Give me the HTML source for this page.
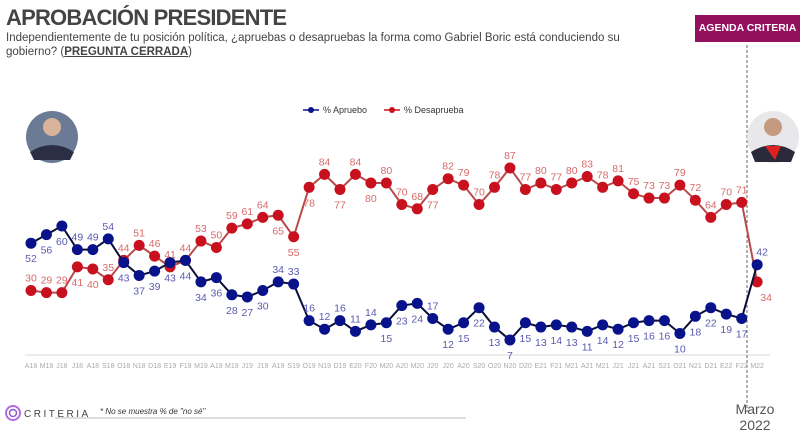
<!DOCTYPE html>
<html><head><meta charset="utf-8"><style>
body{margin:0;width:800px;height:435px;background:#fff;overflow:hidden;font-family:"Liberation Sans",sans-serif;position:relative}
.t{position:absolute;left:6px;top:5px;font-size:22px;font-weight:bold;color:#444;letter-spacing:-0.8px}
.s{position:absolute;left:6px;top:31px;font-size:11.5px;color:#444;line-height:14px;width:620px}
.b{position:absolute;left:695px;top:15px;width:105px;height:27px;background:#93105f;color:#fff;font-size:10.5px;font-weight:bold;text-align:center;line-height:27px}
</style></head><body>
<div class="t">APROBACIÓN PRESIDENTE</div>
<div class="s">Independientemente de tu posición política, ¿apruebas o desapruebas la forma como Gabriel Boric está conduciendo su gobierno? (<b><u>PREGUNTA CERRADA</u></b>)</div>
<div class="b">AGENDA CRITERIA</div>
<svg id="c" width="800" height="435" style="position:absolute;left:0;top:0" font-family="Liberation Sans, sans-serif"></svg>
<script>
var A=[52,56,60,49,49,54,43,37,39,43,44,34,36,28,27,30,34,33,16,12,16,11,14,15,23,24,17,12,15,22,13,7,15,13,14,13,11,14,12,15,16,16,10,18,22,19,17,42];
var D=[30,29,29,41,40,35,44,51,46,41,44,53,50,59,61,64,65,55,78,84,77,84,80,80,70,68,77,82,79,70,78,87,77,80,77,80,83,78,81,75,73,73,79,72,64,70,71,34];
var L="A18 M18 J18 J18 A18 S18 O18 N18 D18 E19 F19 M19 A19 M19 J19 J19 A19 S19 O19 N19 D19 E20 F20 M20 A20 M20 J20 J20 A20 S20 O20 N20 D20 E21 F21 M21 A21 M21 J21 J21 A21 S21 O21 N21 D21 E22 F22 M22".split(" ");
var aUp=[3,4,5,16,17,18,19,20,21,22,26,47],dDn=[3,4,16,17,18,20,22,26,47];
function X(i){return 31+i*15.45}function Y(v){return 355-2.15*v}
var s='';
s+='<line x1="25" y1="355" x2="770" y2="355" stroke="#e6e6e6" stroke-width="1.5"/>';
s+='<line x1="747" y1="45" x2="747" y2="412" stroke="#666" stroke-dasharray="3,2"/>';
s+='<line x1="55" y1="418" x2="466" y2="418" stroke="#bbb"/>';
L.forEach(function(l,i){s+='<text x="'+X(i)+'" y="368" font-size="7" fill="#aaa" text-anchor="middle">'+l+'</text>'});
function ser(d,col,lc){var p=d.map(function(v,i){return X(i)+','+Y(v)}).join(' ');
s+='<polyline points="'+p+'" fill="none" stroke="'+lc+'" stroke-width="2"/>';
d.forEach(function(v,i){s+='<circle cx="'+X(i)+'" cy="'+Y(v)+'" r="5.5" fill="'+col+'"/>'});}
ser(D,'#c8101e','#b84a4a');ser(A,'#08128a','#0a0f3a');
A.forEach(function(v,i){var up=aUp.indexOf(i)>=0;s+='<text x="'+(X(i)+(i==47?5:0))+'" y="'+(Y(v)+(up?-9:19))+'" font-size="10.5" fill="#5a5ab0" text-anchor="middle">'+v+'</text>'});
D.forEach(function(v,i){var dn=dDn.indexOf(i)>=0;s+='<text x="'+(X(i)+(i==47?9:0))+'" y="'+(Y(v)+(dn?19:-9))+'" font-size="10.5" fill="#d86a6a" text-anchor="middle">'+v+'</text>'});
s+='<line x1="303" y1="110" x2="319" y2="110" stroke="#08128a" stroke-width="1.5"/><circle cx="311" cy="110" r="3" fill="#08128a"/><text x="323" y="113" font-size="9" fill="#333">% Apruebo</text>';
s+='<line x1="384" y1="110" x2="400" y2="110" stroke="#c8101e" stroke-width="1.5"/><circle cx="392" cy="110" r="3" fill="#c8101e"/><text x="404" y="113" font-size="9" fill="#333">% Desaprueba</text>';
s+='<circle cx="52" cy="137" r="26" fill="#6b7b95"/><circle cx="52" cy="127" r="9" fill="#d8b49a"/><path d="M30 152 Q52 138 74 152 L70 160 L34 160Z" fill="#2a2f45"/>';
s+='<circle cx="773" cy="137" r="26" fill="#e8e8ea"/><circle cx="773" cy="127" r="9" fill="#c59a80"/><path d="M751 152 Q773 138 795 152 L791 162 L755 162Z" fill="#2a2a3a"/><path d="M765 146 L781 146 L775 160Z" fill="#d22"/>';
s+='<circle cx="13" cy="413" r="7" fill="none" stroke="#b06ce0" stroke-width="2"/><circle cx="13" cy="413" r="3.5" fill="none" stroke="#8a5ad0" stroke-width="1.5"/>';
s+='<text x="24" y="417" font-size="10" fill="#444" letter-spacing="2.5">CRITERIA</text>';
s+='<text x="100" y="414" font-size="8" font-style="italic" fill="#333">* No se muestra % de "no sé"</text>';
s+='<text x="755" y="414" font-size="14" fill="#555" text-anchor="middle">Marzo</text><text x="755" y="430" font-size="14" fill="#555" text-anchor="middle">2022</text>';
document.getElementById('c').innerHTML=s;
</script>
</body></html>
